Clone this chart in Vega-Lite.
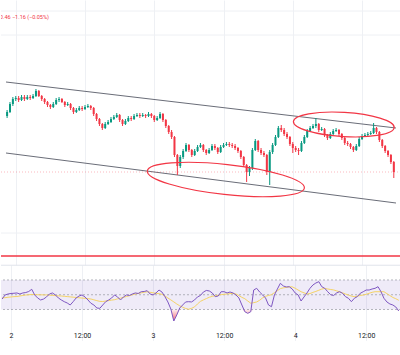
{
  "$schema": "https://vega.github.io/schema/vega-lite/v6.json",
  "padding": 0,
  "bounds": "flush",
  "spacing": 0,
  "config": {"view": {"stroke": null}, "font": "Roboto"},
  "resolve": {"scale": {"x": "independent", "y": "independent"}},
  "datasets": {
    "k": [
      {"t":-1.5,"o":2348,"h":2351,"l":2347,"c":2350,"r":44.2,"m":45.6},
      {"t":-1,"o":2350,"h":2355,"l":2349.5,"c":2354,"r":49.7,"m":46},
      {"t":-0.5,"o":2354,"h":2357.5,"l":2353,"c":2356.5,"r":51,"m":46.6},
      {"t":0,"o":2356.5,"h":2358,"l":2355.5,"c":2357,"r":51.7,"m":47},
      {"t":0.5,"o":2357,"h":2358,"l":2355,"c":2356,"r":52,"m":47.4},
      {"t":1,"o":2356,"h":2358.5,"l":2355.5,"c":2357.5,"r":52.4,"m":47.6},
      {"t":1.5,"o":2357.5,"h":2358.5,"l":2355.5,"c":2356.5,"r":51,"m":48.3},
      {"t":2,"o":2356.5,"h":2358.5,"l":2356,"c":2357.5,"r":52.4,"m":49},
      {"t":2.5,"o":2357.5,"h":2358.5,"l":2356,"c":2357,"r":53,"m":49.6},
      {"t":3,"o":2357,"h":2359,"l":2356.5,"c":2358,"r":54.4,"m":50},
      {"t":3.5,"o":2358,"h":2361.5,"l":2357.5,"c":2360.5,"r":57.4,"m":50.3},
      {"t":4,"o":2360.5,"h":2361,"l":2357.5,"c":2358,"r":49.7,"m":50.2},
      {"t":4.5,"o":2358,"h":2358.5,"l":2355.5,"c":2356.5,"r":45.6,"m":50},
      {"t":5,"o":2356.5,"h":2357,"l":2354,"c":2355,"r":42.9,"m":49.9},
      {"t":5.5,"o":2355,"h":2355.5,"l":2352.5,"c":2353.5,"r":44.2,"m":49.8},
      {"t":6,"o":2353.5,"h":2354,"l":2351.5,"c":2352.5,"r":47,"m":49.7},
      {"t":6.5,"o":2352.5,"h":2355,"l":2352,"c":2354,"r":51,"m":49.4},
      {"t":7,"o":2354,"h":2357,"l":2353.5,"c":2356,"r":52.4,"m":49.1},
      {"t":7.5,"o":2356,"h":2357.5,"l":2355,"c":2356.5,"r":49.7,"m":48.8},
      {"t":8,"o":2356.5,"h":2357,"l":2354.5,"c":2355,"r":45.6,"m":48.5},
      {"t":8.5,"o":2355,"h":2355.5,"l":2352.5,"c":2353.5,"r":42.9,"m":48.3},
      {"t":9,"o":2353.5,"h":2355,"l":2353,"c":2354,"r":40.6,"m":47.9},
      {"t":9.5,"o":2354,"h":2354.5,"l":2351,"c":2352,"r":38.8,"m":47.5},
      {"t":10,"o":2352,"h":2352.5,"l":2349,"c":2350,"r":36.1,"m":47.1},
      {"t":10.5,"o":2350,"h":2352,"l":2349.5,"c":2351,"r":40.6,"m":46.7},
      {"t":11,"o":2351,"h":2353,"l":2350.5,"c":2352,"r":45.6,"m":46.3},
      {"t":11.5,"o":2352,"h":2353,"l":2350.5,"c":2351.5,"r":48.3,"m":45.9},
      {"t":12,"o":2351.5,"h":2353.5,"l":2351,"c":2352.5,"r":49.7,"m":45.5},
      {"t":12.5,"o":2352.5,"h":2354,"l":2352,"c":2353,"r":47,"m":45.1},
      {"t":13,"o":2353,"h":2353.5,"l":2351,"c":2352,"r":42.9,"m":44.6},
      {"t":13.5,"o":2352,"h":2352.5,"l":2348,"c":2349,"r":38.4,"m":44.2},
      {"t":14,"o":2349,"h":2349.5,"l":2345.5,"c":2346.5,"r":36.1,"m":43.1},
      {"t":14.5,"o":2346.5,"h":2347,"l":2343,"c":2344,"r":32,"m":42},
      {"t":15,"o":2344,"h":2344.5,"l":2341,"c":2342,"r":31.6,"m":41},
      {"t":15.5,"o":2342,"h":2345,"l":2341.5,"c":2344,"r":36.1,"m":40.8},
      {"t":16,"o":2344,"h":2346,"l":2343.5,"c":2345,"r":40.6,"m":41.5},
      {"t":16.5,"o":2345,"h":2347.5,"l":2344.5,"c":2346.5,"r":42.9,"m":42.1},
      {"t":17,"o":2346.5,"h":2348.5,"l":2346,"c":2347.5,"r":45.6,"m":42.7},
      {"t":17.5,"o":2347.5,"h":2349.5,"l":2347,"c":2348.5,"r":49.7,"m":43.3},
      {"t":18,"o":2348.5,"h":2349,"l":2345,"c":2346,"r":47,"m":44.4},
      {"t":18.5,"o":2346,"h":2346.5,"l":2343,"c":2344,"r":42.9,"m":45.4},
      {"t":19,"o":2344,"h":2346.5,"l":2343.5,"c":2345.5,"r":47,"m":46.5},
      {"t":19.5,"o":2345.5,"h":2348,"l":2345,"c":2347,"r":49.7,"m":47.6},
      {"t":20,"o":2347,"h":2348,"l":2345.5,"c":2346.5,"r":49,"m":48.7},
      {"t":20.5,"o":2346.5,"h":2349,"l":2346,"c":2348,"r":51,"m":50},
      {"t":21,"o":2348,"h":2349.5,"l":2347.5,"c":2348.5,"r":52.4,"m":51},
      {"t":21.5,"o":2348.5,"h":2349.5,"l":2347,"c":2348,"r":51.7,"m":51.8},
      {"t":22,"o":2348,"h":2349.5,"l":2347.5,"c":2348.5,"r":54.1,"m":52.6},
      {"t":22.5,"o":2348.5,"h":2349,"l":2347,"c":2348,"r":54.4,"m":53.4},
      {"t":23,"o":2348,"h":2350,"l":2347.5,"c":2349,"r":55.5,"m":54},
      {"t":23.5,"o":2349,"h":2349.5,"l":2347,"c":2348,"r":51,"m":53.3},
      {"t":24,"o":2348,"h":2348.5,"l":2345,"c":2346,"r":49.7,"m":52.6},
      {"t":24.5,"o":2346,"h":2348,"l":2345.5,"c":2347,"r":52.4,"m":52},
      {"t":25,"o":2347,"h":2350,"l":2346.5,"c":2349,"r":56.4,"m":51.4},
      {"t":25.5,"o":2349,"h":2349.5,"l":2345,"c":2346,"r":53.7,"m":50.6},
      {"t":26,"o":2346,"h":2346.5,"l":2342,"c":2343,"r":47.4,"m":48.3},
      {"t":26.5,"o":2343,"h":2343.5,"l":2339,"c":2340,"r":40.2,"m":45.6},
      {"t":27,"o":2340,"h":2341,"l":2336.5,"c":2337.5,"r":30.7,"m":43},
      {"t":27.5,"o":2337.5,"h":2338,"l":2327.5,"c":2328.5,"r":14.4,"m":40.3},
      {"t":28,"o":2328.5,"h":2329,"l":2318.5,"c":2323,"r":22.5,"m":37.5},
      {"t":28.5,"o":2323,"h":2328.5,"l":2322,"c":2327.5,"r":32,"m":35},
      {"t":29,"o":2327.5,"h":2331.5,"l":2326.5,"c":2330.5,"r":36.1,"m":33},
      {"t":29.5,"o":2330.5,"h":2334.5,"l":2330,"c":2333.5,"r":40.2,"m":31.4},
      {"t":30,"o":2333.5,"h":2334,"l":2330,"c":2331,"r":40.6,"m":30.3},
      {"t":30.5,"o":2331,"h":2331.5,"l":2327.5,"c":2328.5,"r":40.2,"m":31.6},
      {"t":31,"o":2328.5,"h":2331.5,"l":2328,"c":2330.5,"r":42.9,"m":33.5},
      {"t":31.5,"o":2330.5,"h":2333.5,"l":2330,"c":2332.5,"r":47,"m":37.5},
      {"t":32,"o":2332.5,"h":2334.5,"l":2332,"c":2333.5,"r":49,"m":41},
      {"t":32.5,"o":2333.5,"h":2334,"l":2330,"c":2331,"r":53.7,"m":43},
      {"t":33,"o":2331,"h":2331.5,"l":2328.5,"c":2329.5,"r":55.8,"m":44.8},
      {"t":33.5,"o":2329.5,"h":2332,"l":2329,"c":2331,"r":55.1,"m":46.6},
      {"t":34,"o":2331,"h":2334,"l":2330.5,"c":2333,"r":52.4,"m":47.8},
      {"t":34.5,"o":2333,"h":2334,"l":2331,"c":2332,"r":47.4,"m":48.6},
      {"t":35,"o":2332,"h":2332.5,"l":2329,"c":2330,"r":48.3,"m":49.4},
      {"t":35.5,"o":2330,"h":2333.5,"l":2329.5,"c":2332.5,"r":54.1,"m":50.1},
      {"t":36,"o":2332.5,"h":2334.5,"l":2332,"c":2333.5,"r":54.1,"m":50.6},
      {"t":36.5,"o":2333.5,"h":2335,"l":2333,"c":2334,"r":52.4,"m":51},
      {"t":37,"o":2334,"h":2335,"l":2332.5,"c":2333.5,"r":53.7,"m":51.5},
      {"t":37.5,"o":2333.5,"h":2334.5,"l":2332,"c":2333,"r":52.4,"m":51.9},
      {"t":38,"o":2333,"h":2334,"l":2331,"c":2332,"r":49.7,"m":51},
      {"t":38.5,"o":2332,"h":2332.5,"l":2329.5,"c":2330.5,"r":45.6,"m":48.8},
      {"t":39,"o":2330.5,"h":2331,"l":2326.5,"c":2327.5,"r":36.1,"m":46.5},
      {"t":39.5,"o":2327.5,"h":2328,"l":2322.5,"c":2323.5,"r":27,"m":44.6},
      {"t":40,"o":2323.5,"h":2324,"l":2315,"c":2320,"r":24.8,"m":41.5},
      {"t":40.5,"o":2320,"h":2323,"l":2318,"c":2322,"r":27,"m":38.5},
      {"t":41,"o":2322,"h":2332,"l":2321,"c":2331,"r":56.4,"m":39.3},
      {"t":41.5,"o":2331,"h":2336.5,"l":2330.5,"c":2335.5,"r":58.7,"m":40.2},
      {"t":42,"o":2335.5,"h":2336,"l":2330,"c":2331,"r":53.7,"m":42.5},
      {"t":42.5,"o":2331,"h":2332,"l":2328.5,"c":2329.5,"r":49.7,"m":45.7},
      {"t":43,"o":2329.5,"h":2330.5,"l":2327.5,"c":2328.5,"r":45.6,"m":47.9},
      {"t":43.5,"o":2328.5,"h":2329,"l":2318.5,"c":2320,"r":36.1,"m":49},
      {"t":44,"o":2320,"h":2331,"l":2313.5,"c":2330,"r":33.8,"m":50.1},
      {"t":44.5,"o":2330,"h":2334.5,"l":2329,"c":2333.5,"r":49.7,"m":52.8},
      {"t":45,"o":2333.5,"h":2338.5,"l":2333,"c":2337.5,"r":57.8,"m":55.5},
      {"t":45.5,"o":2337.5,"h":2343,"l":2337,"c":2342,"r":65.5,"m":58.3},
      {"t":46,"o":2342,"h":2343.5,"l":2340,"c":2341,"r":61.9,"m":59.3},
      {"t":46.5,"o":2341,"h":2342,"l":2338,"c":2339,"r":60.5,"m":60},
      {"t":47,"o":2339,"h":2340,"l":2336.5,"c":2337.5,"r":60.9,"m":60.6},
      {"t":47.5,"o":2337.5,"h":2338,"l":2333,"c":2334,"r":57.8,"m":60.7},
      {"t":48,"o":2334,"h":2335,"l":2329.5,"c":2332,"r":52.4,"m":58.8},
      {"t":48.5,"o":2332,"h":2333,"l":2330,"c":2331,"r":49.7,"m":56.4},
      {"t":49,"o":2331,"h":2332,"l":2328.5,"c":2330.5,"r":41.5,"m":54.1},
      {"t":49.5,"o":2330.5,"h":2335.5,"l":2330,"c":2334.5,"r":47,"m":52.6},
      {"t":50,"o":2334.5,"h":2338.5,"l":2334,"c":2337.5,"r":52.4,"m":51},
      {"t":50.5,"o":2337.5,"h":2341.5,"l":2337,"c":2340.5,"r":58.7,"m":51.6},
      {"t":51,"o":2340.5,"h":2343,"l":2340,"c":2342,"r":63.2,"m":53.2},
      {"t":51.5,"o":2342,"h":2344,"l":2341.5,"c":2343,"r":65.9,"m":54.5},
      {"t":52,"o":2343,"h":2347,"l":2342,"c":2344,"r":67.7,"m":56.1},
      {"t":52.5,"o":2344,"h":2344.5,"l":2340,"c":2341,"r":60.9,"m":57.7},
      {"t":53,"o":2341,"h":2342.5,"l":2340.5,"c":2341.5,"r":58.7,"m":58.5},
      {"t":53.5,"o":2341.5,"h":2342,"l":2337.5,"c":2338.5,"r":54.1,"m":57.8},
      {"t":54,"o":2338.5,"h":2339,"l":2336,"c":2337,"r":50,"m":57.1},
      {"t":54.5,"o":2337,"h":2340,"l":2336.5,"c":2339,"r":49,"m":56.5},
      {"t":55,"o":2339,"h":2341.5,"l":2338.5,"c":2340.5,"r":52.4,"m":55.3},
      {"t":55.5,"o":2340.5,"h":2342,"l":2340,"c":2341,"r":54.1,"m":53.9},
      {"t":56,"o":2341,"h":2341.5,"l":2338,"c":2339,"r":52,"m":52.6},
      {"t":56.5,"o":2339,"h":2339.5,"l":2336,"c":2337,"r":47.4,"m":51},
      {"t":57,"o":2337,"h":2337.5,"l":2333.5,"c":2334.5,"r":45.2,"m":49.6},
      {"t":57.5,"o":2334.5,"h":2335.5,"l":2333,"c":2334,"r":40.6,"m":48.2},
      {"t":58,"o":2334,"h":2334.5,"l":2331.5,"c":2332.5,"r":45.2,"m":47.4},
      {"t":58.5,"o":2332.5,"h":2333,"l":2330,"c":2331,"r":47.4,"m":48},
      {"t":59,"o":2331,"h":2334,"l":2330.5,"c":2333,"r":52,"m":49},
      {"t":59.5,"o":2333,"h":2337.5,"l":2332.5,"c":2336.5,"r":54.1,"m":49.6},
      {"t":60,"o":2336.5,"h":2339,"l":2336,"c":2338,"r":56.4,"m":50.6},
      {"t":60.5,"o":2338,"h":2339.5,"l":2337.5,"c":2338.5,"r":56.4,"m":52},
      {"t":61,"o":2338.5,"h":2340,"l":2338,"c":2339,"r":57.8,"m":53.3},
      {"t":61.5,"o":2339,"h":2340.5,"l":2338.5,"c":2339.5,"r":58.7,"m":54.1},
      {"t":62,"o":2339.5,"h":2344.5,"l":2339,"c":2342,"r":60.9,"m":54.1},
      {"t":62.5,"o":2342,"h":2342.5,"l":2339,"c":2340,"r":54.1,"m":54.1},
      {"t":63,"o":2340,"h":2340.5,"l":2335,"c":2336,"r":45.2,"m":54.1},
      {"t":63.5,"o":2336,"h":2336.5,"l":2332,"c":2333,"r":40.2,"m":51.5},
      {"t":64,"o":2333,"h":2333.5,"l":2329.5,"c":2330.5,"r":37.5,"m":48.9},
      {"t":64.5,"o":2330.5,"h":2331,"l":2327.5,"c":2328.5,"r":36.1,"m":46.3},
      {"t":65,"o":2328.5,"h":2329,"l":2324,"c":2325,"r":33.4,"m":44.6},
      {"t":65.5,"o":2325,"h":2325.5,"l":2317,"c":2320,"r":28,"m":42.5}
    ]
  },
  "vconcat": [
    {
      "width": 400,
      "height": 265,
      "layer": [
        {
          "data": {"values": [{"P": 2400.5}, {"P": 2388.5}, {"P": 2289.5}]},
          "mark": {"type": "rule", "color": "#eef0f4", "strokeWidth": 1},
          "encoding": {
            "y": {"field": "P", "type": "quantitative", "scale": {"domain": [2273.5, 2406], "nice": false, "zero": false}, "axis": null}
          }
        },
        {
          "data": {"values": [
            {"line": "upper", "t": -1.69, "P": 2365},
            {"line": "upper", "t": 65.88, "P": 2342},
            {"line": "lower", "t": -1.69, "P": 2329.5},
            {"line": "lower", "t": 65.88, "P": 2304.5}
          ]},
          "mark": {"type": "line", "color": "#6a6d78", "strokeWidth": 1},
          "encoding": {
            "x": {"field": "t", "type": "quantitative", "scale": {"domain": [-1.69, 65.88], "nice": false, "zero": false},
                  "axis": {"values": [0, 12, 24, 36, 48, 60], "labels": false, "ticks": false, "domain": false, "grid": true, "gridColor": "#eef0f4", "title": null}},
            "y": {"field": "P", "type": "quantitative", "scale": {"domain": [2273.5, 2406], "nice": false, "zero": false}, "axis": null},
            "detail": {"field": "line"}
          }
        },
        {
          "data": {"values": [{"P": 2320}]},
          "mark": {"type": "rule", "color": "#f23645", "opacity": 0.35, "strokeDash": [1, 2], "strokeWidth": 1},
          "encoding": {
            "y": {"field": "P", "type": "quantitative", "scale": {"domain": [2273.5, 2406], "nice": false, "zero": false}, "axis": null}
          }
        },
        {
          "data": {"values": [{"P": 2278}]},
          "mark": {"type": "rule", "color": "#f23645", "strokeWidth": 1.5},
          "encoding": {
            "y": {"field": "P", "type": "quantitative", "scale": {"domain": [2273.5, 2406], "nice": false, "zero": false}, "axis": null}
          }
        },
        {
          "data": {"name": "k"},
          "mark": {"type": "rule", "strokeWidth": 1},
          "encoding": {
            "x": {"field": "t", "type": "quantitative", "scale": {"domain": [-1.69, 65.88], "nice": false, "zero": false}},
            "y": {"field": "l", "type": "quantitative", "scale": {"domain": [2273.5, 2406], "nice": false, "zero": false}, "axis": null},
            "y2": {"field": "h"},
            "color": {"condition": {"test": "datum.c >= datum.o", "value": "#089981"}, "value": "#f23645"}
          }
        },
        {
          "data": {"name": "k"},
          "mark": {"type": "bar", "size": 2},
          "encoding": {
            "x": {"field": "t", "type": "quantitative", "scale": {"domain": [-1.69, 65.88], "nice": false, "zero": false}},
            "y": {"field": "o", "type": "quantitative", "scale": {"domain": [2273.5, 2406], "nice": false, "zero": false}, "axis": null},
            "y2": {"field": "c"},
            "color": {"condition": {"test": "datum.c >= datum.o", "value": "#089981"}, "value": "#f23645"}
          }
        },
        {
          "data": {"values": [{"t": 36.4, "P": 2316.25}]},
          "mark": {"type": "point", "shape": "M-1,0A1,0.19,0,1,1,1,0A1,0.19,0,1,1,-1,0Z", "size": 24964, "angle": 6.2, "filled": false, "stroke": "#f23645", "strokeWidth": 1.2, "opacity": 1},
          "encoding": {
            "x": {"field": "t", "type": "quantitative", "scale": {"domain": [-1.69, 65.88], "nice": false, "zero": false}},
            "y": {"field": "P", "type": "quantitative", "scale": {"domain": [2273.5, 2406], "nice": false, "zero": false}, "axis": null}
          }
        },
        {
          "data": {"values": [{"t": 56.84, "P": 2343.75}]},
          "mark": {"type": "point", "shape": "M-1,0A1,0.24,0,1,1,1,0A1,0.24,0,1,1,-1,0Z", "size": 10201, "angle": 3.4, "filled": false, "stroke": "#f23645", "strokeWidth": 1.2, "opacity": 1},
          "encoding": {
            "x": {"field": "t", "type": "quantitative", "scale": {"domain": [-1.69, 65.88], "nice": false, "zero": false}},
            "y": {"field": "P", "type": "quantitative", "scale": {"domain": [2273.5, 2406], "nice": false, "zero": false}, "axis": null}
          }
        },
        {
          "data": {"values": [{"t": 5.74, "P": 2397.6, "txt": "2320.46  −1.16 (−0.05%)"}]},
          "mark": {"type": "text", "align": "right", "baseline": "middle", "fontSize": 5.5, "color": "#f23645", "font": "Roboto", "clip": true},
          "encoding": {
            "x": {"field": "t", "type": "quantitative", "scale": {"domain": [-1.69, 65.88], "nice": false, "zero": false}},
            "y": {"field": "P", "type": "quantitative", "scale": {"domain": [2273.5, 2406], "nice": false, "zero": false}, "axis": null},
            "text": {"field": "txt"}
          }
        }
      ]
    },
    {
      "width": 400,
      "height": 76,
      "resolve": {"scale": {"y": "independent"}},
      "layer": [
        {
          "data": {"values": [{"t0": -1.69, "t1": 65.88, "lo": 30, "hi": 70}]},
          "mark": {"type": "rect", "fill": "#7e57c2", "fillOpacity": 0.12, "stroke": null},
          "encoding": {
            "x": {"field": "t0", "type": "quantitative", "scale": {"domain": [-1.69, 65.88], "nice": false, "zero": false}},
            "x2": {"field": "t1"},
            "y": {"field": "hi", "type": "quantitative", "scale": {"domain": [-12.7, 90.3], "nice": false, "zero": false}, "axis": null},
            "y2": {"field": "lo"}
          }
        },
        {
          "data": {"values": [{"v": 70}, {"v": 50}, {"v": 30}]},
          "mark": {"type": "rule", "color": "#9598a1", "strokeDash": [2, 2], "strokeWidth": 1, "opacity": 0.7},
          "encoding": {
            "y": {"field": "v", "type": "quantitative", "scale": {"domain": [-12.7, 90.3], "nice": false, "zero": false}, "axis": null}
          }
        },
        {
          "data": {"values": [{"v": 90}]},
          "mark": {"type": "rule", "color": "#e0e3eb", "strokeWidth": 1},
          "encoding": {
            "y": {"field": "v", "type": "quantitative", "scale": {"domain": [-12.7, 90.3], "nice": false, "zero": false}, "axis": null}
          }
        },
        {
          "data": {"name": "k"},
          "mark": {"type": "area", "fill": {"gradient": "linear", "x1": 0, "y1": 0, "x2": 0, "y2": 1,
            "stops": [{"offset": 0, "color": "rgba(242,54,69,0.08)"}, {"offset": 1, "color": "rgba(242,54,69,0.75)"}]}},
          "encoding": {
            "x": {"field": "t", "type": "quantitative", "scale": {"domain": [-1.69, 65.88], "nice": false, "zero": false}},
            "y": {"field": "r", "type": "quantitative", "scale": {"domain": [-12.7, 30], "range": [76, 44.5], "clamp": true, "nice": false, "zero": false}, "axis": null},
            "y2": {"datum": 30}
          }
        },
        {
          "data": {"name": "k"},
          "mark": {"type": "line", "color": "#f5d365", "strokeWidth": 1},
          "encoding": {
            "x": {"field": "t", "type": "quantitative", "scale": {"domain": [-1.69, 65.88], "nice": false, "zero": false}},
            "y": {"field": "m", "type": "quantitative", "scale": {"domain": [-12.7, 90.3], "nice": false, "zero": false}, "axis": null}
          }
        },
        {
          "data": {"name": "k"},
          "mark": {"type": "line", "color": "#7e57c2", "strokeWidth": 1},
          "encoding": {
            "x": {"field": "t", "type": "quantitative", "scale": {"domain": [-1.69, 65.88], "nice": false, "zero": false},
                  "axis": {"values": [0, 12, 24, 36, 48, 60], "title": null, "grid": true, "gridColor": "#eef0f4", "ticks": false, "tickSize": 0,
                           "domain": true, "domainColor": "#e0e3eb", "labelFontSize": 7, "labelColor": "#131722", "labelFont": "Roboto",
                           "labelPadding": -9.5, "labelFlush": false, "labelOverlap": false,
                           "labelExpr": "datum.value == 0 ? '2' : datum.value == 24 ? '3' : datum.value == 48 ? '4' : '12:00'"}},
            "y": {"field": "r", "type": "quantitative", "scale": {"domain": [-12.7, 90.3], "nice": false, "zero": false}, "axis": null}
          }
        }
      ]
    }
  ]
}
